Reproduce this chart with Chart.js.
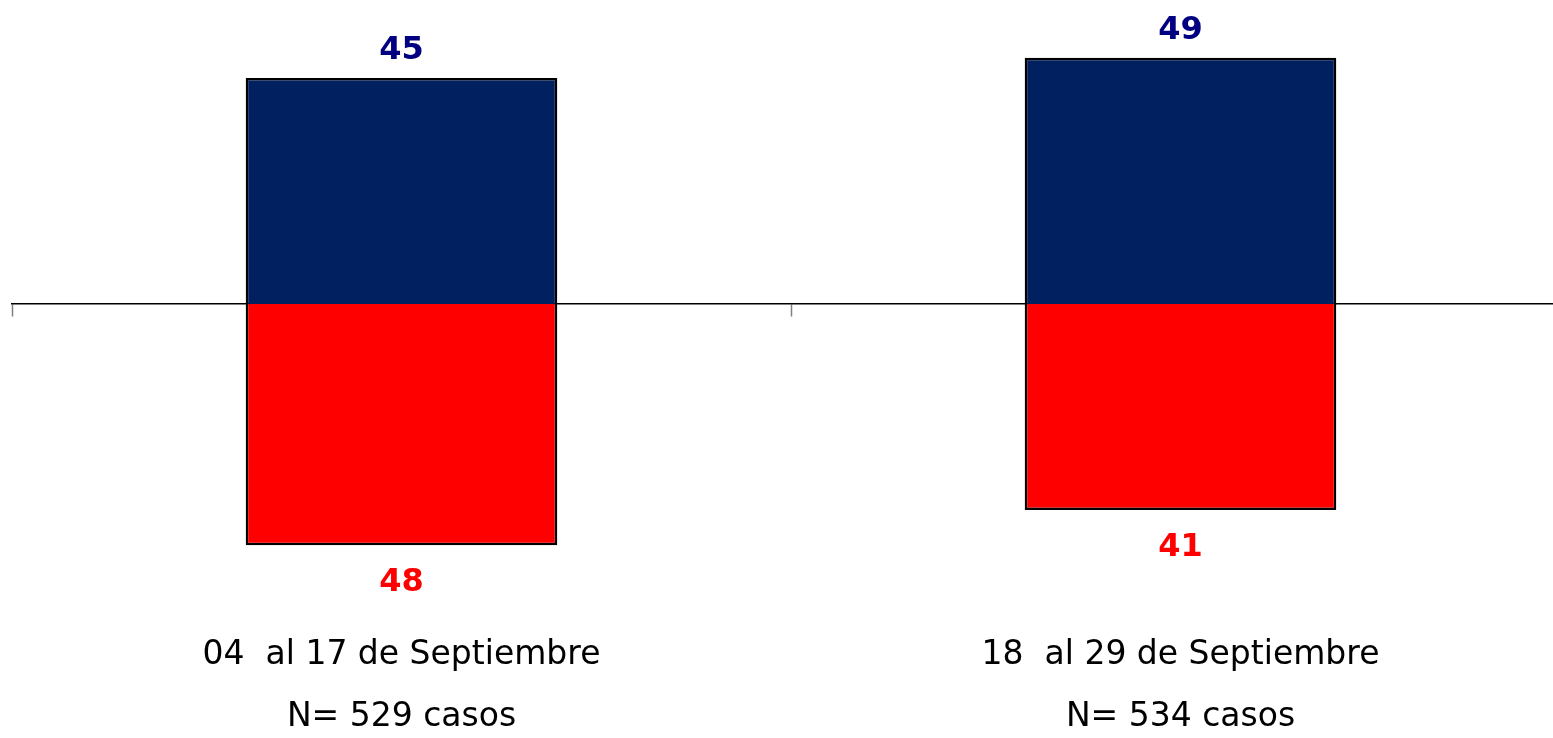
<!DOCTYPE html>
<html>
<head>
<meta charset="utf-8">
<script src="https://cdn.jsdelivr.net/npm/chart.js@4/dist/chart.umd.min.js"></script>
<style>
  html, body { margin: 0; padding: 0; background: #fff; overflow: hidden; }
  #wrap { width: 1575px; height: 738px; }
</style>
</head>
<body>
<div id="wrap"><canvas id="chart"></canvas></div>
<script>
// datos del gráfico
const periodos = ["04  al 17 de Septiembre", "18  al 29 de Septiembre"];
const casos = ["N= 529 casos", "N= 534 casos"];
const positivos = [45, 49];
const negativos = [48, 41];

const azul = "#002060";
const rojo = "#FF0000";
const azulTexto = "#000080";

// etiquetas de valor encima / debajo de cada barra
const etiquetasPlugin = {
  id: "etiquetas",
  afterDatasetsDraw(chart) {
    const ctx = chart.ctx;
    ctx.save();
    ctx.font = "bold 32px 'DejaVu Sans'";
    ctx.textAlign = "center";
    ctx.textBaseline = "alphabetic";
    chart.data.datasets.forEach((ds, i) => {
      const meta = chart.getDatasetMeta(i);
      meta.data.forEach((bar, j) => {
        const v = Math.abs(ds.data[j]);
        if (ds.data[j] >= 0) {
          ctx.fillStyle = azulTexto;
          ctx.fillText(v, bar.x, bar.y - 19);
        } else {
          ctx.fillStyle = rojo;
          ctx.fillText(v, bar.x, bar.y + 46);
        }
      });
    });
    ctx.restore();
  }
};

const ctx = document.getElementById("chart").getContext("2d");
new Chart(ctx, {
  type: "bar",
  data: {
    labels: periodos,
    datasets: [
      {
        label: "positivo",
        data: positivos,
        backgroundColor: azul,
        borderColor: "#000",
        borderWidth: 2.5,
        borderSkipped: "start",
        barPercentage: 0.4,
        categoryPercentage: 1.0
      },
      {
        label: "negativo",
        data: negativos.map(v => -v),
        backgroundColor: rojo,
        borderColor: "#000",
        borderWidth: 2.5,
        borderSkipped: "start",
        barPercentage: 0.4,
        categoryPercentage: 1.0
      }
    ]
  },
  options: {
    responsive: true,
    maintainAspectRatio: false,
    animation: false,
    layout: { padding: { left: 12, right: 5, top: 0, bottom: 0 } },
    plugins: {
      legend: { display: false },
      tooltip: { enabled: false }
    },
    scales: {
      x: {
        type: "category",
        stacked: true,
        position: { y: 0 },
        offset: true,
        grid: {
          display: true,
          offset: true,
          drawOnChartArea: false,
          drawTicks: true,
          tickLength: 12,
          tickColor: "#808080",
          tickWidth: 1.5
        },
        border: { display: true, color: "#000", width: 1.5 },
        ticks: { display: false }
      },
      x2: {
        type: "category",
        labels: periodos,
        position: "bottom",
        weight: 1,
        offset: true,
        grid: { display: false, drawTicks: false },
        border: { display: false },
        ticks: {
          color: "#000",
          padding: 21,
          maxRotation: 0,
          autoSkip: false,
          font: { family: "'DejaVu Sans'", size: 33 }
        }
      },
      x3: {
        type: "category",
        labels: casos,
        position: "bottom",
        weight: 2,
        offset: true,
        grid: { display: false, drawTicks: false },
        border: { display: false },
        ticks: {
          color: "#000",
          padding: 1,
          maxRotation: 0,
          autoSkip: false,
          font: { family: "'DejaVu Sans'", size: 33 }
        }
      },
      y: {
        stacked: true,
        display: false,
        min: -61.85,
        max: 60.5
      }
    }
  },
  plugins: [etiquetasPlugin]
});
</script>
</body>
</html>
